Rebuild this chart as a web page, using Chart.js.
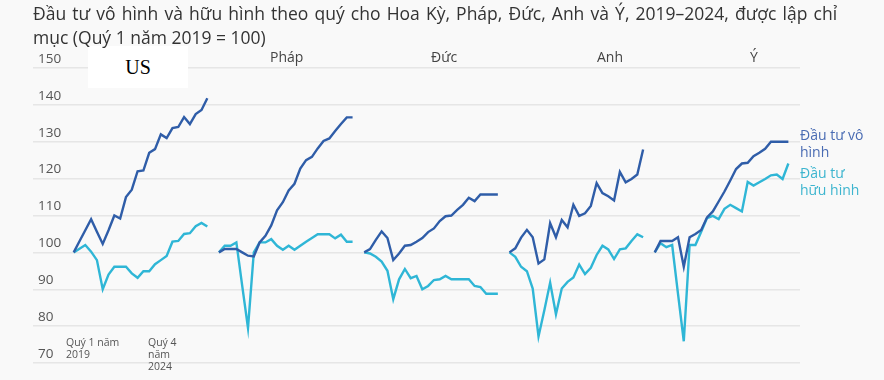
<!DOCTYPE html>
<html>
<head>
<meta charset="utf-8">
<script src="https://cdn.jsdelivr.net/npm/chart.js@4.4.1/dist/chart.umd.min.js"></script>
<style>
  html, body { margin: 0; padding: 0; }
  body { width: 884px; height: 380px; background: #f9f9f9; position: relative; overflow: hidden; font-family: "Open Sans", "Noto Sans", sans-serif; }
  #wrap { position: absolute; left: 0; top: 0; width: 884px; height: 380px; }
  .title { position: absolute; left: 33px; top: 1px; font-size: 17.5px; line-height: 24px; color: #333; white-space: nowrap; }
  .title .l1 { word-spacing: 1.6px; }
  .panel { position: absolute; top: 47px; font-size: 14px; color: #444; }
  .usbox { position: absolute; left: 88px; top: 46px; width: 100px; height: 42px; background: #fff; font-family: "Liberation Serif", serif; font-size: 20px; color: #000; text-align: center; line-height: 42px; }
  .xl { position: absolute; top: 336px; font-size: 10.5px; line-height: 12px; color: #555; }
  .lab { position: absolute; left: 800px; font-size: 14px; line-height: 17px; }
</style>
</head>
<body>
<div id="wrap"><canvas id="c" width="884" height="380"></canvas></div>
<div class="usbox">US</div>
<div class="title"><span class="l1">Đầu tư vô hình và hữu hình theo quý cho Hoa Kỳ, Pháp, Đức, Anh và Ý, 2019–2024, được lập chỉ</span><br>mục (Quý 1 năm 2019 = 100)</div>
<div class="panel" style="left:270px">Pháp</div>
<div class="panel" style="left:431px">Đức</div>
<div class="panel" style="left:597px">Anh</div>
<div class="panel" style="left:750px">Ý</div>
<div class="xl" style="left:66px">Quý 1 năm<br>2019</div>
<div class="xl" style="left:148px">Quý 4<br>năm<br>2024</div>
<div class="lab" style="top:126px;color:#4a6cb3">Đầu tư vô<br>hình</div>
<div class="lab" style="top:164px;color:#3db5cf">Đầu tư<br>hữu hình</div>
<script>
const countries = ["US", "Pháp", "Đức", "Anh", "Ý"];
const yTicks = [70, 80, 90, 100, 110, 120, 130, 140, 150];

const intangibleUS = [100, 103, 106, 109, 105.6, 102.3, 106, 110, 109.2, 115, 117, 122, 122.2, 127, 128, 132, 131, 133.7, 134, 136.7, 134.8, 137.5, 138.6, 141.8];
const tangibleUS   = [100, 101, 102, 100.2, 97.9, 90, 94, 96.1, 96.1, 96.1, 94.3, 93.1, 94.9, 94.9, 96.8, 97.9, 99, 102.9, 103.1, 105, 105.2, 107.1, 108, 107];

const intangibleFR = [100, 100.9, 100.9, 100.9, 100, 99.1, 98.9, 102.7, 104.5, 107.3, 111.4, 113.6, 116.8, 118.6, 122.7, 125, 125.9, 128.2, 130.2, 130.9, 132.9, 134.8, 136.6, 136.6];
const tangibleFR   = [100, 101.8, 101.8, 102.7, 91, 79.5, 100, 102.7, 102.7, 103.6, 101.8, 100.7, 101.8, 100.7, 101.8, 102.9, 103.9, 104.9, 104.9, 104.9, 103.8, 104.8, 102.9, 102.9];

const intangibleDE = [100, 100.9, 103.4, 105.7, 103.9, 97.9, 99.7, 101.8, 102, 102.9, 103.9, 105.5, 106.5, 108.5, 109.8, 110, 111.5, 112.9, 114.8, 113.9, 115.7, 115.7, 115.7, 115.7];
const tangibleDE   = [100, 99.7, 98.8, 97.5, 95, 87.3, 92.7, 95.5, 93, 93.6, 90, 90.9, 92.5, 92.7, 93.6, 92.7, 92.7, 92.7, 92.7, 90.9, 90.6, 88.8, 88.8, 88.8];

const intangibleUK = [100, 101.1, 104, 106.1, 104.1, 97, 98.1, 107.9, 104.1, 108.8, 106.8, 112.9, 109.9, 110.6, 112.6, 118.8, 116.1, 115.2, 114.1, 121.8, 119, 119.9, 121.1, 127.9];
const tangibleUK   = [100, 98.8, 96.1, 94.9, 90.2, 77.2, 84.3, 91.8, 83.2, 90.2, 92, 93.2, 96.7, 94.1, 95.8, 99.3, 101.8, 100.8, 98.2, 100.8, 101.1, 103.1, 104.9, 104.1];

const intangibleIT = [100, 103.1, 103.1, 103.1, 104.1, 96.1, 104.1, 105, 106.1, 109.5, 111.1, 113.8, 116.5, 119.5, 122.6, 124.1, 124.3, 126.1, 127, 128.1, 130, 130, 130, 130];
const tangibleIT   = [100, 102.5, 101.4, 102, 88.8, 75.9, 102, 102, 105.6, 109.3, 109.9, 109, 111.8, 112.9, 112, 111.1, 119.1, 118.1, 119, 119.9, 120.9, 121.1, 119.9, 124.1];

const intangible = [intangibleUS, intangibleFR, intangibleDE, intangibleUK, intangibleIT];
const tangible = [tangibleUS, tangibleFR, tangibleDE, tangibleUK, tangibleIT];

const PERIOD = 25; // quarters per panel incl. gap
const DARK = "#2f5da8";
const LIGHT = "#2fb6d6";

const datasets = [];
countries.forEach((c, p) => {
  datasets.push({
    label: c + " vô hình",
    data: intangible[p].map((v, i) => ({ x: p * PERIOD + i, y: v })),
    borderColor: DARK, borderWidth: 2.4, pointRadius: 0, tension: 0, fill: false
  });
  datasets.push({
    label: c + " hữu hình",
    data: tangible[p].map((v, i) => ({ x: p * PERIOD + i, y: v })),
    borderColor: LIGHT, borderWidth: 2.4, pointRadius: 0, tension: 0, fill: false
  });
});

new Chart(document.getElementById("c"), {
  type: "line",
  data: { datasets },
  options: {
    responsive: false,
    animation: false,
    events: [],
    layout: { padding: { left: 23, right: 84, top: 68, bottom: 17 } },
    plugins: { legend: { display: false }, tooltip: { enabled: false } },
    scales: {
      x: { type: "linear", min: -7, max: 125, display: false },
      y: {
        min: 70, max: 150,
        afterBuildTicks: (s) => { s.ticks = yTicks.map(v => ({ value: v })); },
        border: { display: false },
        grid: { color: "#e6e6e6", lineWidth: 1.5, drawTicks: false },
        ticks: {
          mirror: true, padding: 5, labelOffset: -9,
          color: "#555", font: { family: "Open Sans", size: 13.5 }
        }
      }
    }
  }
});
</script>
</body>
</html>
